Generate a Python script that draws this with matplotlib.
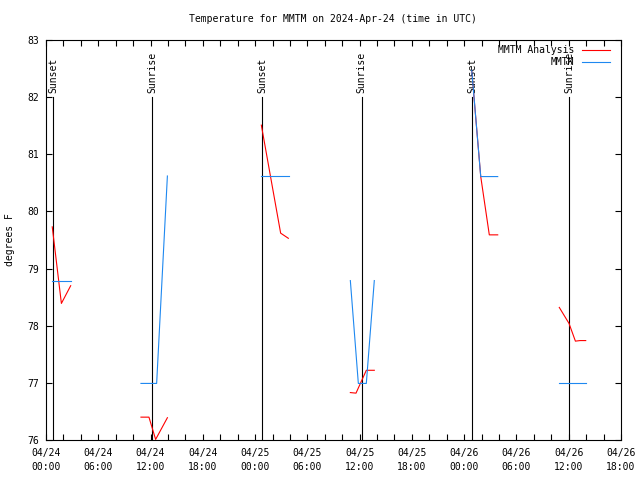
import numpy as np
import pandas as pd
import matplotlib
matplotlib.use("Agg")
import matplotlib.pyplot as plt
import matplotlib.dates as mdates
from matplotlib.lines import Line2D

plt.rcParams['font.family'] = ['DejaVu Sans Mono']
plt.rcParams['font.size'] = 7

# MMTM Analysis (red), one list per segment
analysis_times = [
    ["2024-04-24 00:43", "2024-04-24 01:46", "2024-04-24 02:50"],
    ["2024-04-24 10:54", "2024-04-24 11:49", "2024-04-24 12:35", "2024-04-24 13:56"],
    ["2024-04-25 00:43", "2024-04-25 02:56", "2024-04-25 03:49"],
    ["2024-04-25 10:56", "2024-04-25 11:35", "2024-04-25 12:46", "2024-04-25 13:41"],
    ["2024-04-26 00:52", "2024-04-26 01:54", "2024-04-26 02:53", "2024-04-26 03:51"],
    ["2024-04-26 10:55", "2024-04-26 12:02", "2024-04-26 12:46", "2024-04-26 13:18", "2024-04-26 13:57"],
]
analysis_vals = [
    [79.73, 78.39, 78.70],
    [76.40, 76.40, 76.01, 76.39],
    [81.51, 79.62, 79.53],
    [76.83, 76.82, 77.22, 77.22],
    [82.47, 80.61, 79.59, 79.59],
    [78.32, 78.04, 77.73, 77.74, 77.74],
]

# MMTM observations (blue)
obs_times = [
    ["2024-04-24 00:41", "2024-04-24 02:50"],
    ["2024-04-24 10:54", "2024-04-24 12:42", "2024-04-24 13:56"],
    ["2024-04-25 00:41", "2024-04-25 03:54"],
    ["2024-04-25 10:56", "2024-04-25 11:51", "2024-04-25 12:46", "2024-04-25 13:41"],
    ["2024-04-26 00:52", "2024-04-26 01:54", "2024-04-26 03:51"],
    ["2024-04-26 10:55", "2024-04-26 13:57"],
]
obs_vals = [
    [78.79, 78.79],
    [76.99, 76.99, 80.62],
    [80.62, 80.62],
    [78.79, 76.99, 76.99, 78.79],
    [82.47, 80.61, 80.61],
    [76.99, 76.99],
]

sun_times = ["2024-04-24 00:50", "2024-04-24 12:12", "2024-04-25 00:51",
             "2024-04-25 12:14", "2024-04-26 00:57", "2024-04-26 12:04"]
sun_labels = ["Sunset", "Sunrise", "Sunset", "Sunrise", "Sunset", "Sunrise"]

red = "#ff0000"
blue = "#1e88f0"
lw = 0.8

fig = plt.figure(figsize=(6.4, 4.8), dpi=100)
ax = fig.add_axes([46/640, 40/480, 575/640, 400/480])

# sunrise / sunset markers
for t, lab in zip(pd.to_datetime(sun_times), sun_labels):
    ax.plot([t, t], [76, 82], color="black", lw=lw, zorder=1)
    ax.annotate(lab, (t, 82), xytext=(0, 3), textcoords="offset points",
                rotation=90, ha="center", va="bottom", fontsize=7)

for ts, vs in zip(analysis_times, analysis_vals):
    ax.plot(pd.to_datetime(ts), vs, color=red, lw=lw, zorder=2)
for ts, vs in zip(obs_times, obs_vals):
    ax.plot(pd.to_datetime(ts), vs, color=blue, lw=lw, zorder=3)

ax.set_xlim(pd.Timestamp("2024-04-24 00:00"), pd.Timestamp("2024-04-26 18:00"))
ax.set_ylim(76, 83)
ax.set_yticks(np.arange(76, 84, 1))
ax.xaxis.set_major_locator(mdates.HourLocator(byhour=range(0, 24, 6)))
ax.xaxis.set_minor_locator(mdates.HourLocator(byhour=range(0, 24, 2)))
ax.xaxis.set_major_formatter(mdates.DateFormatter("%m/%d\n%H:%M"))

ax.tick_params(which="both", direction="in", top=True, right=True, labelsize=7,
               width=0.8, color="black", length=4)
ax.tick_params(axis="x", pad=6)
ax.tick_params(axis="y", pad=5)
for lbl in ax.get_xticklabels():
    lbl.set_linespacing(1.5)
for sp in ax.spines.values():
    sp.set_linewidth(0.8)

fig.text(333/640, 1 - 19/480, "Temperature for MMTM on 2024-Apr-24 (time in UTC)",
         ha="center", va="center", fontsize=7)
fig.text(10/640, 0.5, "degrees F", rotation=90, ha="center", va="center", fontsize=7)

# key, top right
for i, (lab, c) in enumerate([("MMTM Analysis", red), ("MMTM", blue)]):
    y = 1 - (50 + 12 * i) / 480
    fig.text(574/640, y, lab, ha="right", va="center", fontsize=7)
    fig.add_artist(Line2D([582/640, 610/640], [y, y], color=c, lw=lw,
                          transform=fig.transFigure))

fig.savefig("out.png", dpi=100)
